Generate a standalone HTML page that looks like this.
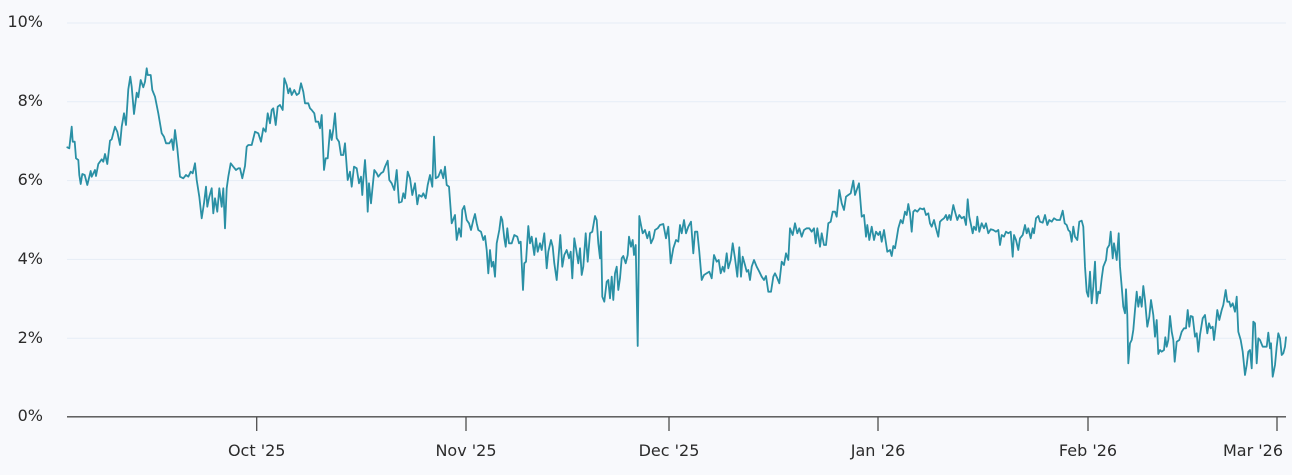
<!DOCTYPE html>
<html><head><meta charset="utf-8">
<style>
html,body{margin:0;padding:0;background:#f8f9fc;}
svg{display:block;}
text{font-family:"DejaVu Sans","Liberation Sans",sans-serif;font-size:16px;fill:#2b2b2b;}
</style></head>
<body>
<svg width="1292" height="475" viewBox="0 0 1292 475" xmlns="http://www.w3.org/2000/svg">
<rect width="1292" height="475" fill="#f8f9fc"/>
<g stroke="#e6edf6" stroke-width="1">
<line x1="67" y1="23" x2="1286" y2="23"/>
<line x1="67" y1="101.8" x2="1286" y2="101.8"/>
<line x1="67" y1="180.6" x2="1286" y2="180.6"/>
<line x1="67" y1="259.4" x2="1286" y2="259.4"/>
<line x1="67" y1="338.2" x2="1286" y2="338.2"/>
</g>
<g text-anchor="end">
<text x="43" y="27">10%</text>
<text x="43" y="106">8%</text>
<text x="43" y="185">6%</text>
<text x="43" y="264">4%</text>
<text x="43" y="343">2%</text>
<text x="43" y="421">0%</text>
</g>
<polyline fill="none" stroke="#2a90a5" stroke-width="1.8" stroke-linejoin="round" stroke-linecap="round" points="
67.3,147.3 69.3,148.3 71.7,126.7 72.7,141.7 74.7,141.7 76,158.3 78.3,160 79.3,175 80.7,184 82.3,174 84.7,175 87.3,185 90.7,171 91.7,176.7 95,170 96,176 98.3,164 101.7,159.3 103.3,161.7 105,154 107.3,164 110,140.7 111.7,139.3 115,126.7 117.3,131.7 120,145 121.7,126.7 124,113.3 126,125 128.3,89.3 130.3,76.7 131.7,86.7 134,114 136.7,92.7 138.3,97.3 140.7,80 143.3,87.3 145,81.7 146.7,68.3 147.7,75 150.7,75 152.3,90 155,96.7 158.3,113.3 161.7,133.3 164,136.7 166,143.3 169.3,143.3 171.7,139.3 173.3,150 175,130 177.3,148.3 180,176.7 183.3,178.3 186,175 188.3,176.7 190.7,171.7 192.7,173.3 195,163.3 196.7,180 199.3,196.7 201.7,218.3 204,203.3 206,186.7 207.3,206.7 209.3,196.7 211.7,188.3 213.3,213.3 215,198.3 217.3,211.7 219.3,188.3 221.7,206.7 223.3,188.3 225,228.3 226.7,188.3 228.3,176.7 230.7,163.3 233.3,166.7 236,170 238.3,168.3 240,168.3 242.3,178.3 245,166 246.7,146.7 248.3,145 251.7,145
255,131.7 258.3,133.3 261,141.7 263.3,128.3 265.7,131.7 267.7,113.3 270,123.3 271.7,110 273.3,108.3 275.7,125 277.7,106.7 280,105 282.7,110 284.3,78.3 286.7,85 288.3,93.3 290,88.3 291.7,95 294.3,90 296.7,95 299,93.3 301,83.3 303.3,91.7 305,103.3 308.3,103.3 310,108.3 311.7,110 314.3,113.3 315.7,121.7 318.3,121.7 320,128.3 321.7,115 324,170 325.7,158.3 327.7,158.3 330,130 331.7,140 333.3,129.3 335,113.3 336.7,138.3 339,141.7 341,155 343.3,155 345,143.3 347.7,180 350,171.7 351.7,186.7 354,166.7 356.7,168.3 359,183.3 361,176.7 362.3,195 363.3,180 365,160 366.7,185 367.7,211.7 369,183.3 371,203.3 372.3,190 374.3,170 376.7,173.3 378.3,176.7 381,173.3 383.3,171.7 385,166.7 387.7,160.7 389.3,180 391.7,183.3 394.3,190 396.7,170 399,202.7 401.7,201.7 403.3,193.3 405,198.3 407.7,171.7 410,178.3 412.3,195 415,183.3 417.3,204.3 419,195 421.7,196.7 423.3,193.3 425.7,198.3 427.7,185 430,175 432.3,186.7 434,136.7 435.7,178.3 438.3,176.7 441,170 443.3,178.3 445,166.7 446.7,185 449,186.7 451.7,223.3
455,215 456.7,240 459,228.3 461,236.7 462.3,210 464.3,206 466.7,220 469,223.3 471,230 473.3,220 475,214 476.7,223.3 478.3,230 481,231.7 483.3,240 485,236 486.7,250 488.3,273.3 490,250 491.7,266.7 493.3,261.7 495,276.7 496.7,243.3 499.3,230 501,216.7 502.3,220 504.3,238.3 505.7,246.7 507.3,228.3 509,243.3 511.7,243.3 514.3,235 517.3,236.7 519,243.3 520.7,241.7 523,290 524.3,263.3 526,261.7 528.3,226 530,243.3 531.7,236.7 534.3,255 536,238.3 537.7,251.7 540,243.3 541.7,250 544.3,233.3 546.7,268.3 548.3,251.7 551,240 552.7,246.7 554.3,263.3 556.7,280 558.3,260 560.3,235 562.3,266.7 564.3,255 566.7,250 569,258.3 570.7,251.7 572.3,278.3 574.3,238.3 576,248.3 578.3,263.3 580,248.3 581.7,275 583.3,266.7 585.7,233.3 587.7,261.7 590,233.3 592.3,231.7 595,216 596.7,220 598.3,243.3 600,258.3 601,231.7 602.3,296.7 604.3,301.7 606.7,281.7 608.3,280 610,298.3 611.7,276.7 613.3,300 615,273.3 616.7,266.7 618.3,290 620,278.3 621.7,258.3 623.3,256 625.7,263.3 627.7,255 629,236.7 631,246.7 632.7,240 634,255 635.7,245 637.7,346 639.3,216 641,225 642.7,233.3 645,230 647.3,238.3 649.3,231.7 651,243.3 653.3,238.3 655,230 657.7,228.3
660,225 663.3,224 666,238.3 668.3,226.7 670.7,263.3 673.3,248.3 676,240 678.3,241.7 680,225 681.7,233.3 684,220 686,233.3 688.3,226.7 691,221.7 693.3,253.3 695,231.7 697.3,231.7 699.3,251.7 701.7,280 704,275 706.7,273.3 709.3,271.7 711.7,278.3 714,255 716.7,261.7 718.7,260 720.7,273.3 722.7,266.7 724.3,271.7 726.7,253.3 728.3,268.3 730.7,260 732.7,243.3 735,258.3 737.3,276.7 739.3,247.3 741,276.7 742.7,256.7 745,265 746.7,271.7 748.3,270 750,280 751.7,266.7 754,260 756.7,266.7 759.3,271.7 761.7,276.7 764,280 766,276 768.3,291.7 771,291.7 773.3,276.7 775,273.3 777.3,278.3 779.3,283.3 781.7,261.7 784,265 786,253.3 788.3,260 790,228.3 792.7,235 795,223.3 797.3,233.3 799.3,228.3 801.7,236.7 804,230 806.7,228.3 809.3,228.3 811.7,231.7 814,228.3 815.7,243.3 817.3,228.3 820,246.7 821.7,233.3 824,245 826,245 828.3,223.3 830.7,221.7 832.7,211.7 835,211.7 836.7,216.7 839.3,190 841.7,203.3 844,210 846,196.7 848.3,195 850.7,193.3 853.3,180.7 855,195 856.7,190 859,183.3
861.7,216.7 864,215 866,236.7 867.3,225 869.3,240 871.7,226.7 874,240 876,231.7 878.3,235 880,231.7 881.7,241.7 884,230 886,243.3 887.3,251.7 890,250 891.7,256 893.3,246 895,248.3 896.7,238.3 898.3,228.3 900.7,220 902.7,223.3 905,211.7 906.7,215 908.3,204 910,213.3 911.7,231.7 913.3,211.7 915,210 917.3,211.7 920,208.3 922.7,209.3 924,208.3 926,215 928.3,213.3 930,223.3 931.7,226.7 934,220 936,228.3 938.3,236.7 940,221.7 941.7,220 944,218.3 946,215 947.3,220 949.3,215 950.7,220 953.3,205 955,211.7 957.3,220 959.3,215 961.7,218.3 964,216.7 966,225 967.7,199.3 969.3,216.7 970.7,223.3 972.7,233.3 974,226.7 976,230 977.3,216.7 979.3,231.7 981.7,223.3 984,228.3 986,223.3 988.3,233.3 990.7,229.3 993.3,230 996,231.7 998.3,230 1000,245 1001.7,235 1004,236.7 1006,231.7 1008.3,233.3 1010.7,231.7 1012.7,256.7 1014,235 1016,240 1018.3,250 1020,238.3 1022.7,235 1025,225 1026.7,233.3 1028.3,228.3 1030.7,238.3 1032.7,228.3 1034,233.3 1036,218.3 1038.3,216 1040,221.7 1042.7,222.7 1045,215 1047.3,225 1049.3,220 1051.7,221.7 1054,218.3 1056.7,220 1059.3,220
1060,220 1062.7,210.7 1064.7,223.3 1066.7,225 1068.3,230 1070,231.7 1071.7,241.7 1073.3,226.7 1075,236.7 1077.3,240 1079.3,221.7 1081.7,220.7 1083.3,226.7 1085,266.7 1086.7,291.7 1088.3,296.7 1090,271.7 1091.7,303.3 1093.3,286.7 1095,261.7 1096.7,303.3 1098.3,291.7 1100,293.3 1101.7,278.3 1103.3,266.7 1106,260 1107.3,248.3 1109.3,245 1110.7,231.7 1112.7,258.3 1114,243.3 1115.7,253.3 1116.7,260 1118.7,233.3 1120,266.7 1121.7,286.7 1123.3,306.7 1125,313.3 1126,289.3 1127.3,315 1128.3,363.3 1130,343.3 1131.7,340 1133.3,330 1135,310 1136.7,291.7 1138.3,306.7 1140,296.7 1141.7,306.7 1143.3,286 1145,300 1147.3,326.7 1149.3,316.7 1151,300 1153.3,315 1155,336.7 1156.7,320 1158.3,354 1160,350 1161.7,351.7 1164,350 1165.3,337.3 1166.7,346.7 1168.3,340 1170,316 1171.7,331.7 1173.3,340 1174.7,361.7 1176.7,341.7 1179.3,340 1181.7,331.7 1184,328.3 1186,328.3 1187.7,310 1189.3,326.7 1190.7,316 1192.7,316.7 1195,336.7 1196.7,333.3 1198.3,351.7 1200,335 1202.7,318.3 1205,315 1207.3,333.3 1209,323.3 1210.7,328.3 1212.7,326.7 1214,340 1215.7,326 1217.3,310 1219.3,320 1221.7,310 1223.3,305 1225.7,290 1227.3,301.7 1229.3,301.7 1230.7,306.7 1232.7,303.3 1235,311.7 1236.7,296.7 1238.3,331.7 1240.7,340 1242.7,351.7 1245,375 1246.7,365 1248.3,351.7 1250,350 1251.7,368.3 1253.3,321.7 1255,323.3 1256.7,363.3 1258.3,338.3 1260,340 1262.7,346.7 1265,346.7 1266.7,346.7 1268.3,332.7 1270,348.3 1271,343.3 1272.7,376.7 1275,365 1276.7,346.7 1278.3,333.3 1280,338.3 1281.7,355 1283.3,353.3 1285,346.7 1286,337.3"/>
<g stroke="#4d4d4d" stroke-width="1.3">
<line x1="67" y1="416.8" x2="1286" y2="416.8"/>
<line x1="256.7" y1="416.8" x2="256.7" y2="431"/>
<line x1="466" y1="416.8" x2="466" y2="431"/>
<line x1="669" y1="416.8" x2="669" y2="431"/>
<line x1="878" y1="416.8" x2="878" y2="431"/>
<line x1="1088" y1="416.8" x2="1088" y2="431"/>
<line x1="1277" y1="416.8" x2="1277" y2="431"/>
</g>
<g text-anchor="middle">
<text x="256.7" y="456">Oct '25</text>
<text x="466" y="456">Nov '25</text>
<text x="669" y="456">Dec '25</text>
<text x="878" y="456">Jan '26</text>
<text x="1088" y="456">Feb '26</text>
<text x="1253" y="456">Mar '26</text>
</g>
</svg>
</body></html>
